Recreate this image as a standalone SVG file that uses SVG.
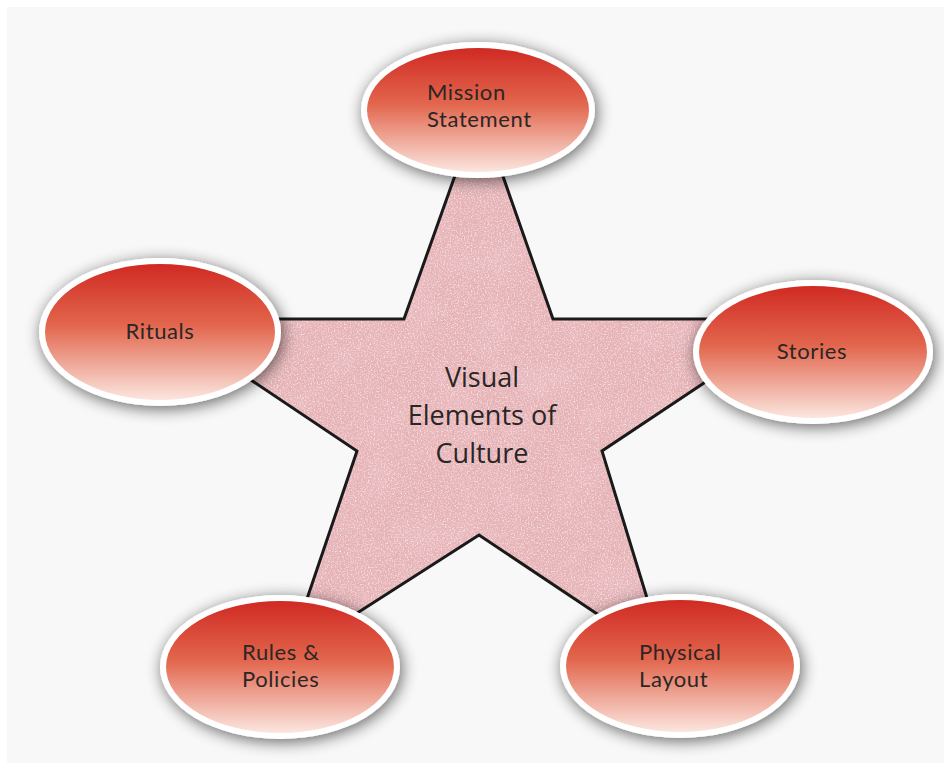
<svg xmlns="http://www.w3.org/2000/svg" width="944" height="763" viewBox="0 0 944 763">
<style>
.lbl{font-family:Lato,"Open Sans",sans-serif;font-size:22px;letter-spacing:0.6px;fill:#2b2626}
.ctr{font-family:"Open Sans","Noto Sans",sans-serif;font-size:27px;fill:#2b2626;text-anchor:middle}
.rim{fill:#ffffff;filter:url(#shadow)}
.body{fill:url(#redgrad)}
</style>
<defs>
<linearGradient id="redgrad" x1="0" y1="0" x2="0" y2="1">
<stop offset="0" stop-color="#d02a23"/>
<stop offset="0.45" stop-color="#e2664d"/>
<stop offset="1" stop-color="#fbe6df"/>
</linearGradient>
<filter id="shadow" x="-20%" y="-30%" width="140%" height="160%">
<feGaussianBlur in="SourceAlpha" stdDeviation="8"/>
<feOffset dx="2" dy="3" result="b"/>
<feComponentTransfer in="b" result="s"><feFuncA type="linear" slope="0.6"/></feComponentTransfer>
<feMerge><feMergeNode in="s"/><feMergeNode in="SourceGraphic"/></feMerge>
</filter>
<filter id="tex" x="0" y="0" width="100%" height="100%">
<feTurbulence type="fractalNoise" baseFrequency="0.7" numOctaves="2" seed="4" result="n"/>
<feColorMatrix in="n" type="matrix" values="0 0 0 0 1  0 0 0 0 1  0 0 0 0 1  1.6 0 0 0 -0.75" result="w"/>
<feComposite in="w" in2="SourceGraphic" operator="in" result="specks"/>
<feTurbulence type="fractalNoise" baseFrequency="0.025" numOctaves="3" seed="9" result="m"/>
<feColorMatrix in="m" type="matrix" values="0 0 0 0 0.84  0 0 0 0 0.52  0 0 0 0 0.56  1.2 0 0 0 -0.5" result="d"/>
<feComposite in="d" in2="SourceGraphic" operator="in" result="patches"/>
<feMerge><feMergeNode in="SourceGraphic"/><feMergeNode in="patches"/><feMergeNode in="specks"/></feMerge>
</filter>
</defs>
<rect x="0" y="0" width="944" height="763" fill="#ffffff"/>
<rect x="7" y="7" width="937" height="756" fill="#f8f8f8"/>
<g id="star">
<polygon points="479,108 553,319 800,319 602,451 666,660 479,535 287,658 357,451 160,319 404,319" fill="#e6b2b6" filter="url(#tex)"/>
<polygon points="479,108 553,319 800,319 602,451 666,660 479,535 287,658 357,451 160,319 404,319" fill="none" stroke="#1a1a1a" stroke-width="3"/>
<text class="ctr"><tspan x="482" y="387">Visual</tspan><tspan x="482" y="425">Elements of</tspan><tspan x="482" y="463">Culture</tspan></text>
</g>
<g id="connectors"></g>
<g id="mission">
<ellipse class="rim" cx="478" cy="110" rx="117" ry="68"/>
<ellipse class="body" cx="478" cy="110" rx="111" ry="62"/>
<text class="lbl"><tspan x="427" y="100">Mission</tspan><tspan x="427" y="127">Statement</tspan></text>
</g>
<g id="rituals">
<ellipse class="rim" cx="160" cy="332" rx="121" ry="74"/>
<ellipse class="body" cx="160" cy="332" rx="115" ry="68"/>
<text class="lbl" x="160" y="339" text-anchor="middle">Rituals</text>
</g>
<g id="stories">
<ellipse class="rim" cx="813" cy="352" rx="120" ry="72"/>
<ellipse class="body" cx="813" cy="352" rx="114" ry="66"/>
<text class="lbl" x="812" y="359" text-anchor="middle">Stories</text>
</g>
<g id="rules">
<ellipse class="rim" cx="280" cy="667" rx="120" ry="72"/>
<ellipse class="body" cx="280" cy="667" rx="114" ry="66"/>
<text class="lbl"><tspan x="242" y="660">Rules &amp;</tspan><tspan x="242" y="687">Policies</tspan></text>
</g>
<g id="physical">
<ellipse class="rim" cx="680" cy="666" rx="120" ry="72"/>
<ellipse class="body" cx="680" cy="666" rx="114" ry="66"/>
<text class="lbl"><tspan x="639" y="660">Physical</tspan><tspan x="639" y="687">Layout</tspan></text>
</g>
</svg>
